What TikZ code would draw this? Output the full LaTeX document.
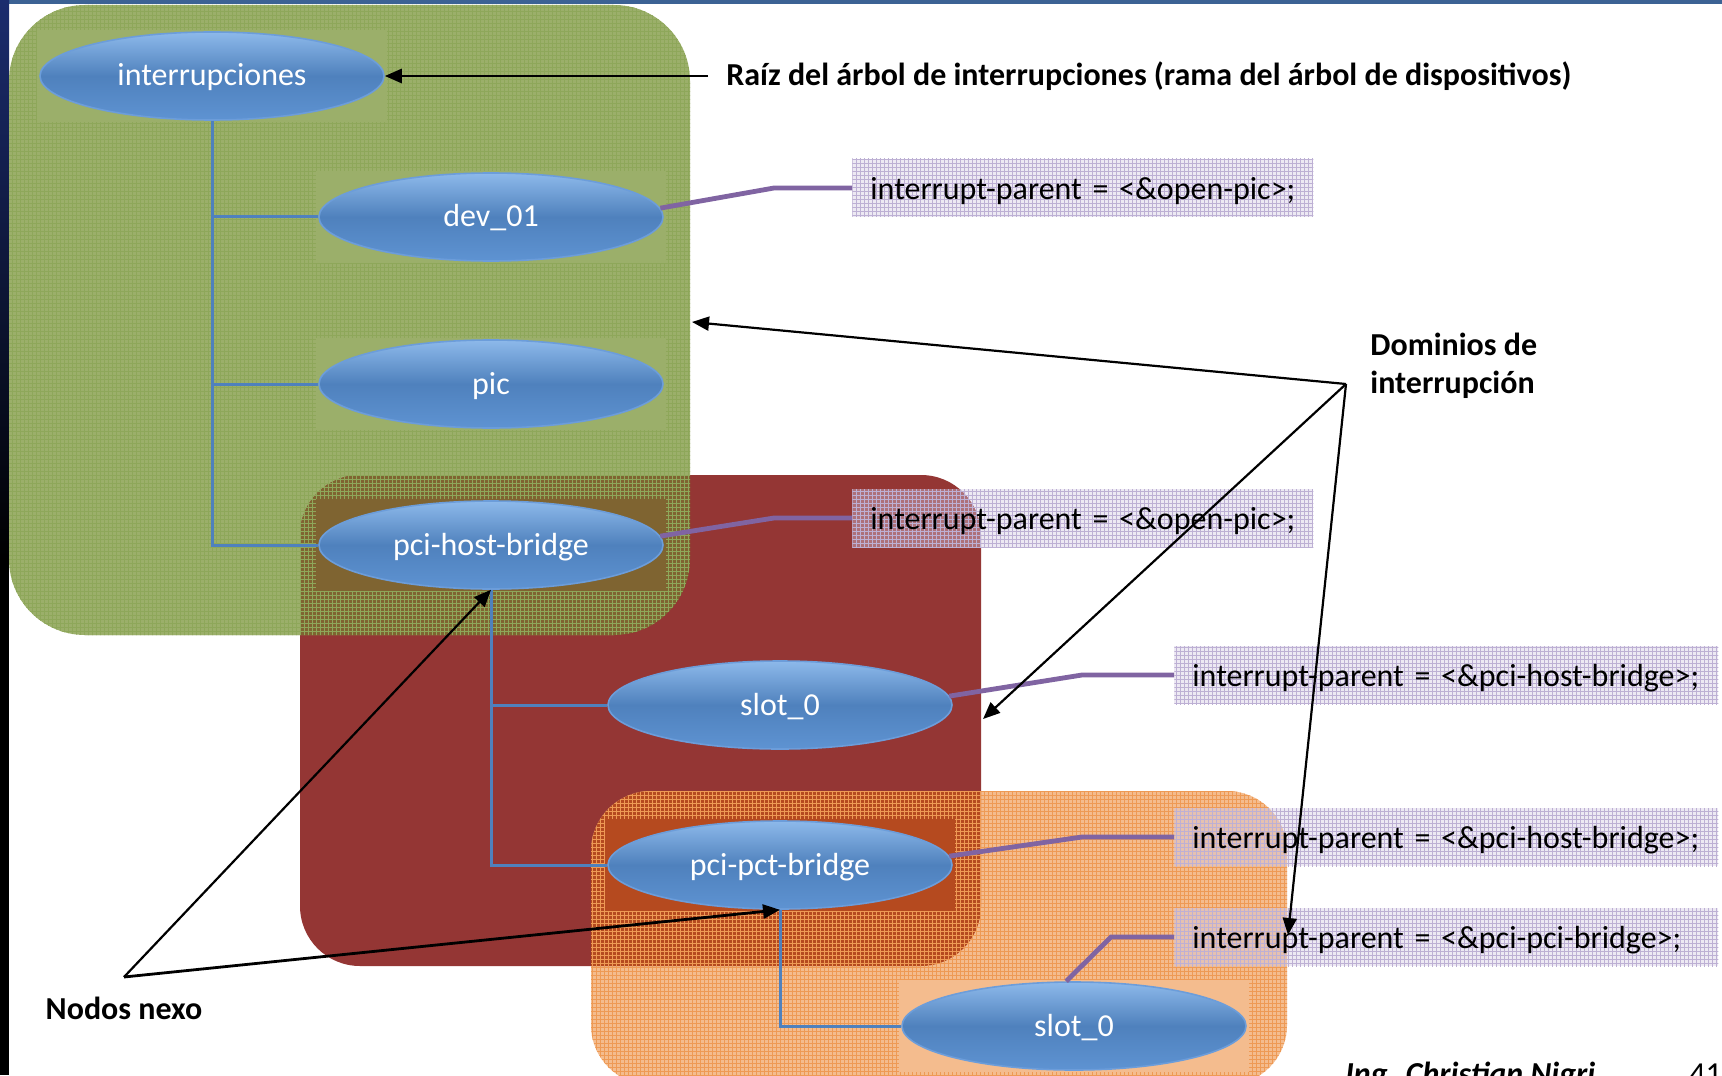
\documentclass[tikz,border=0pt]{standalone}
\usepackage{fontspec}
\setmainfont{Carlito}
\usetikzlibrary{arrows.meta,patterns,shapes.geometric,calc}

% fine mesh used as texture on the domain areas and code boxes
\pgfdeclarepatternformonly{meshgrid}{\pgfqpoint{-0.2pt}{-0.2pt}}{\pgfqpoint{2.2pt}{2.2pt}}{\pgfqpoint{2pt}{2pt}}{%
  \pgfsetlinewidth{0.3pt}%
  \pgfpathmoveto{\pgfqpoint{0pt}{0pt}}\pgfpathlineto{\pgfqpoint{2pt}{0pt}}%
  \pgfpathmoveto{\pgfqpoint{0pt}{0pt}}\pgfpathlineto{\pgfqpoint{0pt}{2pt}}%
  \pgfusepath{stroke}}

\definecolor{grp}{HTML}{9BAF6A}
\definecolor{grpline}{HTML}{8EA75A}
\definecolor{redd}{HTML}{943634}
\definecolor{olv}{HTML}{7F6431}
\definecolor{org}{HTML}{F4BC8E}
\definecolor{orgline}{HTML}{EE9A55}
\definecolor{orr}{HTML}{B54A1F}
\definecolor{lav}{HTML}{D3CAE3}
\definecolor{lavline}{HTML}{BDB0D4}
\definecolor{nbtop}{HTML}{8DB9EA}
\definecolor{nbmid}{HTML}{4F81BD}
\definecolor{nbbot}{HTML}{5E93D2}
\definecolor{nbrim}{HTML}{6C9DDA}
\definecolor{treeblue}{HTML}{4F81BD}
\definecolor{purp}{HTML}{8064A2}
\definecolor{topbar}{HTML}{3C6294}
\definecolor{navy}{HTML}{1B2C6E}

\begin{document}
\begin{tikzpicture}[x=0.5pt,y=-0.5pt,
  bubble/.style={ellipse, minimum width=172pt, minimum height=44pt, inner sep=0pt,
    text height=12.5pt, text depth=2.5pt,
    top color=nbtop, bottom color=nbbot, middle color=nbmid,
    draw=nbrim, line width=0.8pt, text=white, font=\fontsize{16}{19}\selectfont},
  codebox/.style={anchor=west, rectangle, inner xsep=9pt, inner ysep=0pt,
    minimum height=29pt, text width=#1, align=left,
    text height=13.2pt, text depth=2pt,
    preaction={fill=lav, fill opacity=0.4}, pattern=meshgrid, pattern color=lavline,
    font=\fontsize{16}{19}\selectfont},
  codebox/.default=212.5pt,
  annot/.style={font=\bfseries\fontsize{16}{19}\selectfont, align=left, inner sep=0pt},
  pointer/.style={draw=black, line width=1.1pt, -{Triangle[length=8.5pt,width=7pt]}},
  treeline/.style={draw=treeblue, line width=1.5pt},
  link/.style={draw=purp, line width=2.4pt}
]

\useasboundingbox (0,0) rectangle (1722,1075);
\clip (0,0) rectangle (1722,1075);
\fill[white] (0,0) rectangle (1722,1075);

% slide frame: top rule and dark left strip
\fill[topbar] (0,0) rectangle (1722,4);
\fill[top color=navy, bottom color=black] (0,0) rectangle (9,560);
\fill[black] (0,559) rectangle (9,1075);

% interrupt domains
\fill[grp, rounded corners=38pt] (9,5) rectangle (690,635);
\fill[redd, rounded corners=30pt] (300,475) rectangle (981,966);
\fill[org, rounded corners=30pt] (591,791) rectangle (1287,1085);
\begin{scope}
  \clip[rounded corners=38pt] (9,5) rectangle (690,635);
  \fill[olv, rounded corners=30pt] (300,475) rectangle (981,966);
\end{scope}
\begin{scope}
  \clip[rounded corners=30pt] (591,791) rectangle (1287,1085);
  \fill[orr, rounded corners=30pt] (300,475) rectangle (981,966);
\end{scope}
\fill[pattern=meshgrid, pattern color=grpline, rounded corners=38pt] (9,5) rectangle (690,635);
\fill[pattern=meshgrid, pattern color=orgline, rounded corners=30pt] (591,791) rectangle (1287,1085);

% node centres
\coordinate (pRoot) at (212,76);
\coordinate (pDev) at (491,217);
\coordinate (pPic) at (491,384);
\coordinate (pHost) at (491,545);
\coordinate (pSlotA) at (780,705);
\coordinate (pPct) at (780,865);
\coordinate (pSlotB) at (1074,1026);

% flat panels behind the nodes
\fill[grp] ($(pRoot)+(-175,-46)$) rectangle ($(pRoot)+(175,46)$);
\fill[grp] ($(pDev)+(-175,-46)$) rectangle ($(pDev)+(175,46)$);
\fill[grp] ($(pPic)+(-175,-46)$) rectangle ($(pPic)+(175,46)$);
\fill[olv] ($(pHost)+(-175,-46)$) rectangle ($(pHost)+(175,46)$);
\fill[orr] ($(pPct)+(-175,-46)$) rectangle ($(pPct)+(175,46)$);
\fill[org] ($(pSlotB)+(-175,-46)$) rectangle ($(pSlotB)+(175,46)$);

% tree nodes
\node[bubble] (root) at (pRoot) {interrupciones};
\node[bubble] (dev) at (pDev) {dev\_01};
\node[bubble] (pic) at (pPic) {pic};
\node[bubble] (host) at (pHost) {pci-host-bridge};
\node[bubble] (slotA) at (pSlotA) {slot\_0};
\node[bubble] (pct) at (pPct) {pci-pct-bridge};
\node[bubble] (slotB) at (pSlotB) {slot\_0};

% tree edges
\draw[treeline] (root.south) -- (root.south |- host.west) -- (host.west);
\draw[treeline] (root.south |- dev.west) -- (dev.west);
\draw[treeline] (root.south |- pic.west) -- (pic.west);
\draw[treeline] (host.south) -- (host.south |- pct.west) -- (pct.west);
\draw[treeline] (host.south |- slotA.west) -- (slotA.west);
\draw[treeline] (pct.south) -- (pct.south |- slotB.west) -- (slotB.west);

% interrupt-parent properties
\node[codebox] (lab1) at (852,188) {\mbox{interrupt-parent = <\&open-pic>;}};
\node[codebox] (lab2) at (852,518) {\mbox{interrupt-parent = <\&open-pic>;}};
\node[codebox=254pt] (lab3) at (1174,675) {\mbox{interrupt-parent = <\&pci-host-bridge>;}};
\node[codebox=254pt] (lab4) at (1174,837) {\mbox{interrupt-parent = <\&pci-host-bridge>;}};
\node[codebox=254pt] (lab5) at (1174,937) {\mbox{interrupt-parent = <\&pci-pci-bridge>;}};

\draw[link] (dev.3) -- ($(lab1.west)+(-78,0)$) -- (lab1.west);
\draw[link] (host.3) -- ($(lab2.west)+(-78,0)$) -- (lab2.west);
\draw[link] (slotA.3) -- ($(lab3.west)+(-92,0)$) -- (lab3.west);
\draw[link] (pct.3) -- ($(lab4.west)+(-92,0)$) -- (lab4.west);
\draw[link] (slotB.100) -- ($(lab5.west)+(-63,0)$) -- (lab5.west);

% annotations
\node[annot, anchor=west, inner xsep=9pt] (raiz) at (708,76)
  {Raíz del árbol de interrupciones (rama del árbol de dispositivos)};
\draw[pointer, line width=1.4pt] (raiz.west) -- (root.east);

\node[annot, anchor=west] (dominios) at (1370,366) {Dominios de\\interrupción};
\coordinate (dom) at (1346,384);
\coordinate (gEdge) at (692,322);
\coordinate (rEdge) at (983,719);
\coordinate (oEdge) at (1288,935);
\draw[pointer] (dom) -- (gEdge);
\draw[pointer] (dom) -- (rEdge);
\draw[pointer] (dom) -- (oEdge);

\node[annot] (nexo) at (124,1008) {Nodos nexo};
\coordinate (nexoApex) at (124,977);
\draw[pointer] (nexoApex) -- (host.south);
\draw[pointer, line width=1.4pt] (nexoApex) -- (pct.south);

% footer, running off the lower edge
\node[anchor=base west, inner sep=0pt, font=\bfseries\itshape\fontsize{16}{19}\selectfont] (author) at (1345,1084) {Ing. Christian Nigri};
\node[anchor=base west, inner sep=0pt, font=\fontsize{16}{19}\selectfont] (pageno) at (1689,1084) {41};
\end{tikzpicture}
\end{document}
